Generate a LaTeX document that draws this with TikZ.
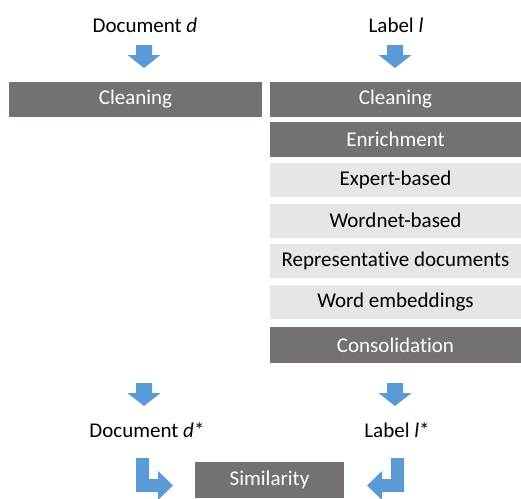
\documentclass[tikz,border=0pt]{standalone}
\usepackage{fontspec}
\setmainfont{Carlito}[Ligatures=NoCommon]
\usetikzlibrary{positioning}

\definecolor{boxdark}{HTML}{767171}
\definecolor{boxlight}{HTML}{E7E6E6}
\definecolor{arrowblue}{HTML}{5B9BD5}

\tikzset{
    darkbox/.style={fill=boxdark, text=white, inner sep=0pt, minimum height=35pt, font=\fontsize{21}{25}\selectfont},
    lightbox/.style={fill=boxlight, text=black, inner sep=0pt, minimum height=34pt, minimum width=251pt, font=\fontsize{21}{25}\selectfont},
    plaintext/.style={inner sep=0pt, font=\fontsize{21}{25}\selectfont},
    blockarrow/.style={fill=arrowblue, draw=none}
}

\begin{document}
\begin{tikzpicture}[x=1pt, y=-1pt]

    \useasboundingbox (0,0) rectangle (521,498);

    % Inputs
    \node[plaintext] (doc) at (145,25) {Document \textit{d}};
    \node[plaintext] (lab) at (396,25) {Label \textit{l}};

    % Down arrows under the inputs
    \foreach \x/\y in {144/45, 395/45, 144/383, 395/383} {
        \begin{scope}[shift={(\x,\y)}]
            \fill[blockarrow] (-8,0) -- (8,0) -- (8,10) -- (16.5,10) -- (0,23) -- (-16.5,10) -- (-8,10) -- cycle;
        \end{scope}
    }

    % Document side
    \node[darkbox, minimum width=253pt] (cleanD) at (135.5,99.5) {Cleaning};

    % Label side
    \node[darkbox, minimum width=251pt] (cleanL) at (395.5,99.5) {Cleaning};
    \node[darkbox, minimum width=251pt] (enrich) at (395.5,139.5) {Enrichment};
    \foreach \name/\y/\txt in {expert/180/Expert-based, wordnet/220.5/Wordnet-based,
                               repdocs/261/Representative documents, wordemb/302/Word embeddings} {
        \node[lightbox] (\name) at (395.5,\y) {\txt};
    }
    \node[darkbox, minimum width=251pt, minimum height=36pt] (consol) at (395.5,345) {Consolidation};

    % Outputs
    \node[plaintext] (docstar) at (147,430) {Document \textit{d}*};
    \node[plaintext] (labstar) at (397,430) {Label \textit{l}*};

    % Similarity with bent arrows
    \node[darkbox, minimum width=149pt, minimum height=36pt] (simil) at (269.5,480) {Similarity};
    \begin{scope}[shift={(136,458)}]
        \fill[blockarrow] (0,0) -- (13,0) -- (13,21) -- (22,21) -- (22,13) -- (37,27.5) -- (22,42) -- (22,34) -- (0,34) -- cycle;
    \end{scope}
    \begin{scope}[shift={(404,458)}, xscale=-1]
        \fill[blockarrow] (0,0) -- (13,0) -- (13,21) -- (22,21) -- (22,13) -- (37,27.5) -- (22,42) -- (22,34) -- (0,34) -- cycle;
    \end{scope}

\end{tikzpicture}
\end{document}
